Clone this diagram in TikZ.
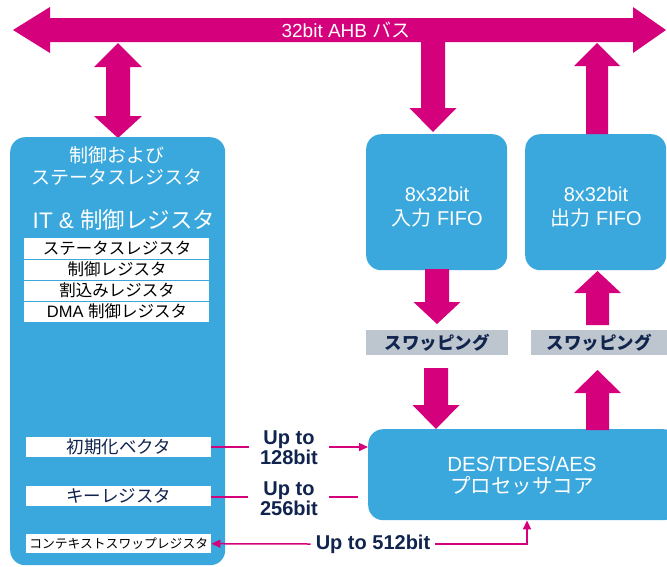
\documentclass[tikz,border=0pt]{standalone}
\usepackage{fontspec}
\setmainfont{Liberation Sans}
\newfontfamily\jp{Noto Sans CJK JP}
\usetikzlibrary{arrows.meta,calc}
\definecolor{stpink}{RGB}{213,0,124}
\definecolor{stblue}{RGB}{58,168,220}
\definecolor{stgray}{RGB}{189,198,206}
\definecolor{stnavy}{RGB}{16,36,78}
\newcommand\fatarrow[6]{% x, ytail, ybase, ytip, half shaft, half head
  \fill[stpink] ({#1-#5},#2) -- ({#1-#5},#3) -- ({#1-#6},#3) -- (#1,#4) -- ({#1+#6},#3) -- ({#1+#5},#3) -- ({#1+#5},#2) -- cycle;}
\newcommand\fs[1]{\fontsize{#1}{#1}\selectfont}
\begin{document}
\begin{tikzpicture}[x=1pt,y=-1pt,
  bluebox/.style={fill=stblue,rounded corners=15pt,inner sep=0pt,anchor=north west},
  wbox/.style={fill=white,inner sep=0pt,minimum width=185pt,anchor=north west},
  swapbox/.style={fill=stgray,inner sep=0pt,minimum height=25pt,anchor=north west,font=\jp\bfseries\fs{17.5}\color{stnavy}},
  wtxt/.style={text=white,inner sep=0pt,align=center},
  lbl/.style={text=stnavy,font=\bfseries\fs{20},align=center,inner sep=0pt,fill=white},
  thin/.style={draw=stpink,line width=1.5pt},
  tip/.style={-{Triangle[length=9pt,width=8pt]}}
]
\useasboundingbox (0,0) rectangle (667,566);

% bus
\fill[stpink] (13,30) -- (50,7) -- (50,18) -- (633,18) -- (633,7) -- (666,30) -- (633,53) -- (633,42) -- (50,42) -- (50,53) -- cycle;
\node[wtxt,font=\fs{19}] (bus) at (346,30) {32bit AHB {\jp バス}};

% left box double arrow
\fill[stpink] (118,43) -- (142,67) -- (130,67) -- (130,116) -- (142,116) -- (118,138) -- (94,116) -- (106,116) -- (106,67) -- (94,67) -- cycle;

% boxes
\node[bluebox,minimum width=215pt,minimum height=428pt] (ctl) at (10,137) {};
\node[bluebox,minimum width=141pt,minimum height=136pt] (infifo) at (366,134) {};
\node[bluebox,minimum width=141pt,minimum height=136pt] (outfifo) at (525,134) {};
\node[bluebox,minimum width=310pt,minimum height=91pt] (core) at (368,429) {};

\node[wtxt,font=\fs{20}] (inlbl) at (437,207) {8x32bit\\[4pt]{\jp 入力} FIFO};
\node[wtxt,font=\fs{20}] (outlbl) at (596,207) {8x32bit\\[4pt]{\jp 出力} FIFO};
\node[wtxt,font=\fs{20.5}] (corelbl) at (522,476) {DES/TDES/AES\\[2pt]{\jp プロセッサコア}};

% swapping
\node[swapbox,minimum width=142pt] (swin) at (366,330) {スワッピング};
\node[swapbox,minimum width=136pt] (swout) at (531,330) {スワッピング};

% fat arrows
\fatarrow{433}{42}{108}{132}{12}{23.5}
\fatarrow{597}{134}{66}{43}{11}{23}
\fatarrow{437}{269}{302}{324}{12}{23.5}
\fatarrow{436}{368}{405}{429}{12}{23.5}
\fatarrow{597.5}{430}{393}{370}{11.5}{23.5}
\fatarrow{597.5}{325}{293}{271}{11.5}{23.5}

% left box texts
\node[wtxt,font=\jp\fs{19}] (t1) at (117,166) {制御および\\[3pt]ステータスレジスタ};
\node[wtxt,font=\fs{22.5}] (t2) at (124,220) {IT \& {\jp 制御レジスタ}};

\node[wbox,minimum height=84pt] (tab) at (24,238) {};
\foreach \y in {259,280,301} \draw[stblue,line width=1pt] (24,\y) -- (209,\y);
\node[font=\jp\fs{16.5}] (r1) at (117,248.5) {ステータスレジスタ};
\node[font=\jp\fs{16.5}] (r2) at (117,269.5) {制御レジスタ};
\node[font=\jp\fs{16.5}] (r3) at (117,290.5) {割込みレジスタ};
\node[font=\fs{16.5}] (r4) at (117,311.5) {DMA {\jp 制御レジスタ}};

\node[wbox,minimum height=20pt,font=\jp\fs{17.5}\color{stnavy}] (iv) at (26,437) {初期化ベクタ};
\node[wbox,minimum height=20pt,font=\jp\fs{17.5}\color{stnavy}] (kr) at (26,486) {キーレジスタ};
\node[wbox,minimum height=19pt,font=\jp\fs{12.8}] (ctx) at (26,534) {コンテキストスワップレジスタ};

% thin connectors
\node[lbl] (l1) at (289,448) {Up to\\128bit};
\node[lbl] (l2) at (289,499) {Up to\\256bit};
\node[lbl] (l3) at (373,544) {Up to 512bit};
\coordinate (e2) at (358,497);
\coordinate (c3) at (527,544);

\draw[thin] (iv.east |- 0,447) -- (249,447);
\draw[thin,tip] (329,447) -- (core.west |- 0,447);
\draw[thin] (kr.east |- 0,497) -- (248,497);
\draw[thin] (329,497) -- (e2);
\draw[thin,tip] (l3.west) ++(-5,0) -- (ctx.east);
\draw[thin,tip] (l3.east) ++(5,0) -- (c3) -- (core.south -| c3);
\end{tikzpicture}
\end{document}
